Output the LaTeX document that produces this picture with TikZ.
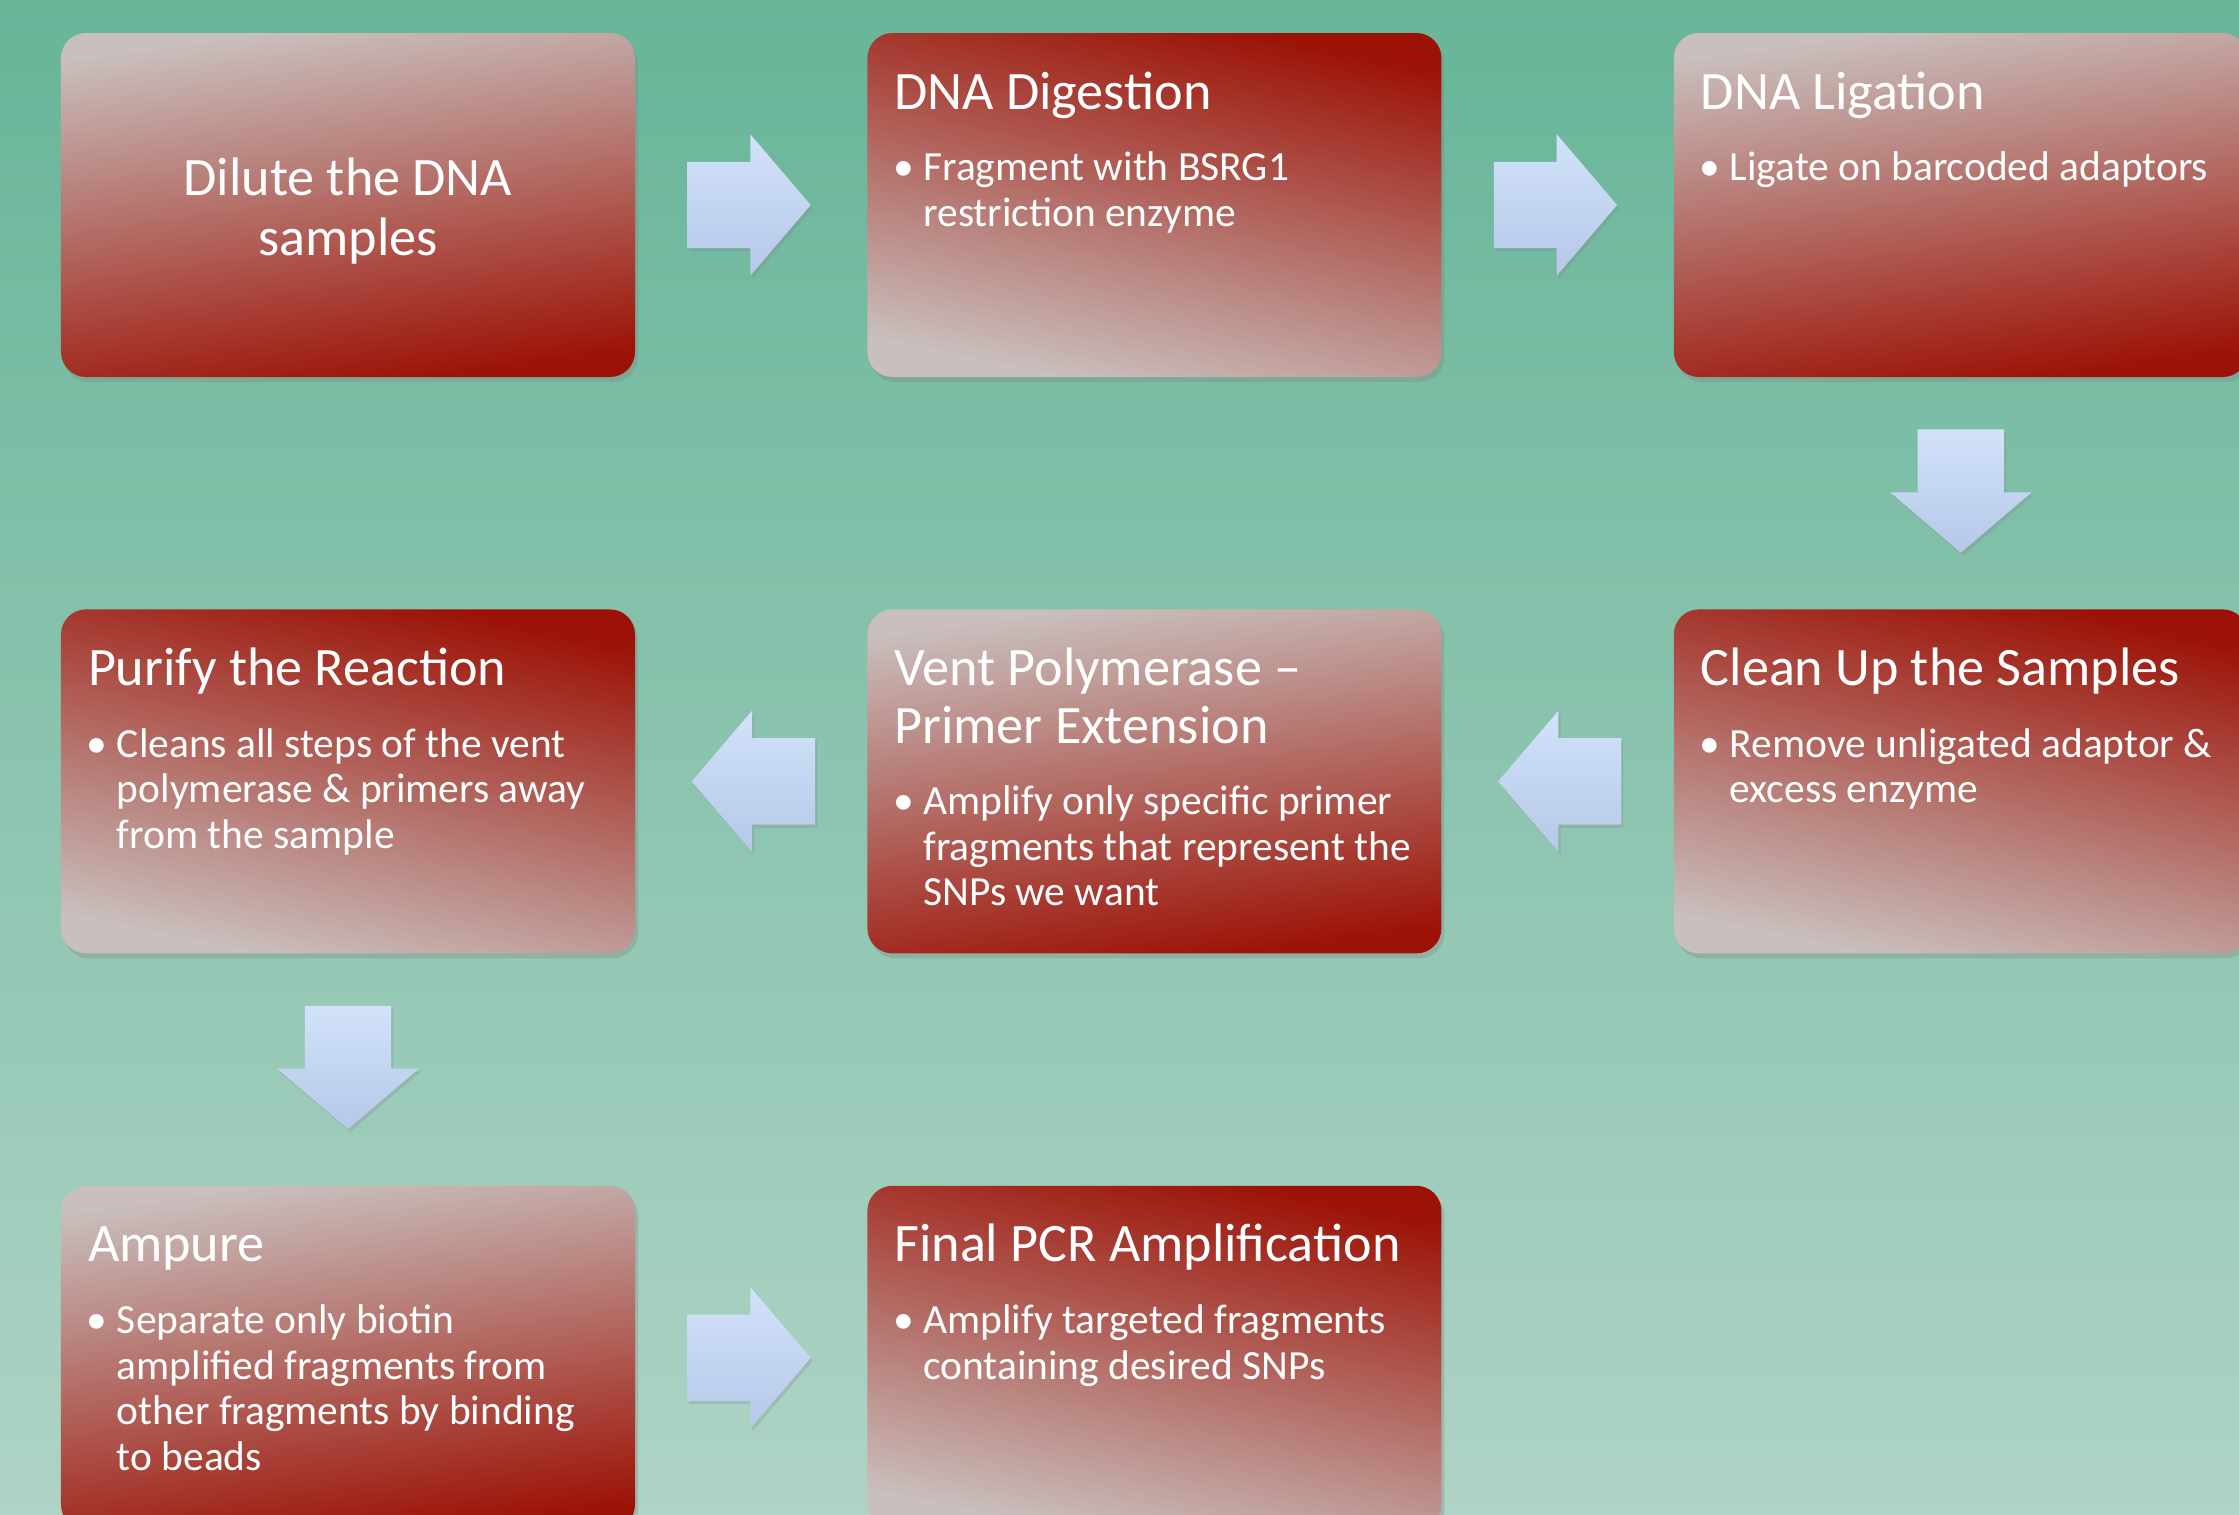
\documentclass[tikz,border=0pt]{standalone}
\usepackage{fontspec}
\setmainfont{Carlito}
\usetikzlibrary{positioning,shapes.arrows,shadows}

\definecolor{bgtop}{RGB}{103,181,152}
\definecolor{bgbottom}{RGB}{175,211,197}
\definecolor{panelred}{RGB}{156,18,6}
\definecolor{panelgrey}{RGB}{201,192,190}
\definecolor{flowtop}{RGB}{210,226,250}
\definecolor{flowbottom}{RGB}{182,200,232}

% title and one bullet, set from the top left of a panel
\newcommand{\panelbody}[2]{%
  \parbox[c][3.44cm][t]{5.74cm}{\raggedright\lineskiplimit=-20pt
    \leftskip=0.27cm
    \fontsize{15.4}{16.4}\selectfont\rule{0pt}{0.76cm}#1\par
    \vspace{7.5pt}
    \leftskip=0.56cm
    \fontsize{11.8}{12.95}\selectfont\leavevmode\llap{\makebox[0.3cm][l]{\textbullet}}#2\par}}
% centred text only
\newcommand{\panelcentre}[1]{%
  \parbox[c][3.44cm][c]{5.74cm}{\centering\vspace*{0.12cm}\fontsize{15.4}{17}\selectfont #1\par}}

\begin{document}
\begin{tikzpicture}[
    panel/.style={rounded corners=0.25cm, inner sep=0pt, text=white,
        drop shadow={shadow xshift=0.03cm, shadow yshift=-0.05cm, opacity=0.3}},
    lightdown/.style={panel, top color=panelgrey, bottom color=panelred, shading angle=8},
    darkdown/.style={panel, top color=panelred, bottom color=panelgrey, shading angle=-12},
    flow/.style={single arrow, single arrow head extend=0.275cm, single arrow tip angle=99,
        inner sep=0.425cm, minimum height=1.22cm, top color=flowtop, bottom color=flowbottom,
        drop shadow={shadow xshift=0.02cm, shadow yshift=-0.03cm, opacity=0.25}}
  ]
  \useasboundingbox (0,0) rectangle (22.39,-15.15);
  \clip (0,0) rectangle (22.39,-15.15);

  % background
  \shade[top color=bgtop, bottom color=bgbottom] (0,0) rectangle (22.39,-15.15);

  % first row
  \node[lightdown] (s1) at (3.48,-2.05) {\panelcentre{Dilute the DNA\\samples}};
  \node[darkdown, right=2.31cm of s1] (s2) {\panelbody{DNA Digestion}{Fragment with BSRG1\\restriction enzyme}};
  \node[lightdown, right=2.31cm of s2] (s3) {\panelbody{DNA Ligation}{Ligate on barcoded adaptors}};

  % second row, read right to left
  \node[darkdown, below=2.31cm of s3] (s4) {\panelbody{Clean Up the Samples}{Remove unligated adaptor \&\\excess enzyme}};
  \node[lightdown, left=2.31cm of s4] (s5) {\panelbody{Vent Polymerase –\\Primer Extension}{Amplify only specific primer\\fragments that represent the\\SNPs we want}};
  \node[darkdown, left=2.31cm of s5] (s6) {\panelbody{Purify the Reaction}{Cleans all steps of the vent\\polymerase \& primers away\\from the sample}};

  % third row
  \node[lightdown, below=2.31cm of s6] (s7) {\panelbody{Ampure}{Separate only biotin\\amplified fragments from\\other fragments by binding\\to beads}};
  \node[darkdown, right=2.31cm of s7] (s8) {\panelbody{Final PCR Amplification}{Amplify targeted fragments\\containing desired SNPs}};

  % block arrows
  \node[flow, right=0.51cm of s1, anchor=tail] (a1) {};
  \node[flow, right=0.51cm of s2, anchor=tail] (a2) {};
  \node[flow, shape border rotate=270, below=0.51cm of s3, anchor=tail] (a3) {};
  \node[flow, shape border rotate=180, left=0.51cm of s4, anchor=tail] (a4) {};
  \node[flow, shape border rotate=180, left=0.51cm of s5, anchor=tail] (a5) {};
  \node[flow, shape border rotate=270, below=0.51cm of s6, anchor=tail] (a6) {};
  \node[flow, right=0.51cm of s7, anchor=tail] (a7) {};
\end{tikzpicture}
\end{document}
